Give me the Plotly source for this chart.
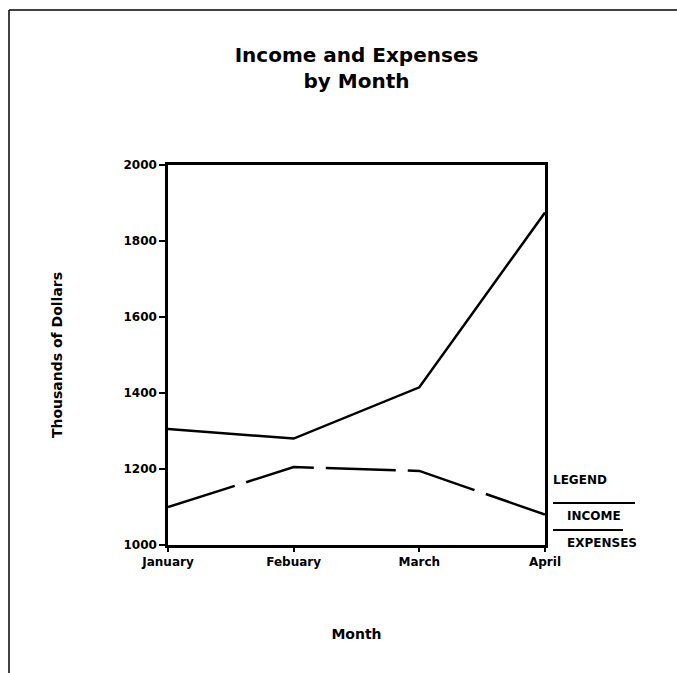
import plotly.graph_objects as go

months = ["January", "Febuary", "March", "April"]
income = [1305, 1280, 1415, 1875]
expenses = [1100, 1205, 1195, 1080]
y_ticks = [1000, 1200, 1400, 1600, 1800, 2000]
legend_title = "LEGEND"
legend_labels = ["INCOME", "EXPENSES"]

FONT = "DejaVu Sans"
W, H = 677, 673
L, R, T, B = 168, 132, 165, 128
PW, PH = W - L - R, H - T - B


def px(xp):
    return (xp - L) / PW


def py(yp):
    return (H - B - yp) / PH


fig = go.Figure()
fig.add_trace(go.Scatter(x=months, y=income, mode="lines", name=legend_labels[0],
                         line=dict(color="black", width=2.5)))
fig.add_trace(go.Scatter(x=months, y=expenses, mode="lines", name=legend_labels[1],
                         line=dict(color="black", width=2.5, dash="70px,12px")))

shapes = [
    # page frame (top and left edges)
    dict(type="line", xref="paper", yref="paper", x0=px(9), x1=px(677), y0=py(10), y1=py(10),
         line=dict(color="black", width=1.5)),
    dict(type="line", xref="paper", yref="paper", x0=px(9), x1=px(9), y0=py(10), y1=py(673),
         line=dict(color="black", width=1.5)),
    # legend rules
    dict(type="line", xref="paper", yref="paper", x0=px(553), x1=px(635), y0=py(503), y1=py(503),
         line=dict(color="black", width=2)),
    dict(type="line", xref="paper", yref="paper", x0=px(553), x1=px(623), y0=py(530), y1=py(530),
         line=dict(color="black", width=2)),
]

annotations = [
    dict(text=f"<b>{legend_title}</b>", xref="paper", yref="paper", x=px(551), y=py(480),
         xanchor="left", yanchor="middle", showarrow=False, font=dict(family=FONT, size=12, color="black")),
    dict(text=f"<b>{legend_labels[0]}</b>", xref="paper", yref="paper", x=px(565), y=py(516),
         xanchor="left", yanchor="middle", showarrow=False, font=dict(family=FONT, size=12, color="black")),
    dict(text=f"<b>{legend_labels[1]}</b>", xref="paper", yref="paper", x=px(565), y=py(543),
         xanchor="left", yanchor="middle", showarrow=False, font=dict(family=FONT, size=12, color="black")),
]

fig.update_layout(
    width=W, height=H,
    margin=dict(l=L, r=R, t=T, b=B, autoexpand=False),
    paper_bgcolor="white", plot_bgcolor="white",
    showlegend=False,
    font=dict(family=FONT, color="black"),
    title=dict(text="<b>Income and Expenses<br>by Month</b>", x=0.5, xref="paper", xanchor="center",
               y=1 - 62 / H, yref="container", yanchor="top",
               font=dict(family=FONT, size=20, color="black")),
    shapes=shapes,
    annotations=annotations,
)

fig.update_xaxes(
    range=[0, 3], showgrid=False, zeroline=False,
    tickvals=months, ticktext=[f"<b>{m}</b>" for m in months],
    showline=True, linecolor="black", linewidth=2.5, mirror=True,
    ticks="outside", ticklen=4, tickwidth=2, tickcolor="black",
    tickfont=dict(family=FONT, size=12, color="black"),
    title=dict(text="<b>Month</b>", font=dict(family=FONT, size=14, color="black"), standoff=62),
)
fig.update_yaxes(
    range=[1000, 2000], showgrid=False, zeroline=False,
    tickvals=y_ticks, ticktext=[f"<b>{v}</b>" for v in y_ticks],
    showline=True, linecolor="black", linewidth=2.5, mirror=True,
    ticks="outside", ticklen=6, tickwidth=2, tickcolor="black",
    tickfont=dict(family=FONT, size=12, color="black"),
    title=dict(text="<b>Thousands of Dollars</b>", font=dict(family=FONT, size=14, color="black"), standoff=58),
)

fig.write_html("out.html", config={"displayModeBar": False},
               post_script="document.body.style.margin='0';document.body.style.overflow='hidden';")
